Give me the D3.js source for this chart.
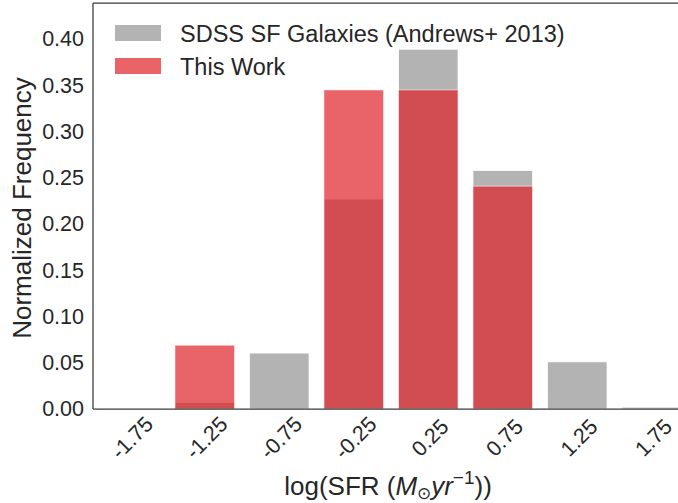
<!DOCTYPE html>
<html><head><meta charset="utf-8">
<script src="https://cdn.jsdelivr.net/npm/d3@7"></script>
<style>body{margin:0;background:#fff;} svg{display:block;} text{font-family:"Liberation Sans",Arial,sans-serif;fill:#262626;}</style>
</head><body>
<svg id="c" width="678" height="503"></svg>
<script>
const binCenters = [-1.75, -1.25, -0.75, -0.25, 0.25, 0.75, 1.25, 1.75];
const tickLabels = ["-1.75", "-1.25", "-0.75", "-0.25", "0.25", "0.75", "1.25", "1.75"];
const sdssValues = [0, 0.007, 0.0605, 0.227, 0.389, 0.258, 0.051, 0.002];
const thisWorkValues = [0, 0.069, 0, 0.345, 0.345, 0.241, 0, 0];
const yTicks = [0, 0.05, 0.10, 0.15, 0.20, 0.25, 0.30, 0.35, 0.40];
const seriesNames = ["SDSS SF Galaxies (Andrews+ 2013)", "This Work"];

const svg = d3.select("#c");
const L = 93, T = 3, B = 409;
const x = d3.scaleLinear().domain([-2, 2]).range([L, L + 4 * 149]);
const y = d3.scaleLinear().domain([0, 0.439]).range([B, T]);
const barW = 0.4;

const gray = "#b3b3b3";
const red = "rgb(222,34,40)";

// SDSS bars
svg.append("g").selectAll("rect").data(binCenters).join("rect")
  .attr("x", (d) => x(d - barW / 2))
  .attr("width", x(barW) - x(0))
  .attr("y", (d, i) => y(sdssValues[i]))
  .attr("height", (d, i) => y(0) - y(sdssValues[i]))
  .attr("fill", gray).attr("stroke", "#fff").attr("stroke-width", 0.8)
  .style("display", (d, i) => sdssValues[i] > 0 ? null : "none");

// This Work bars
svg.append("g").selectAll("rect").data(binCenters).join("rect")
  .attr("x", (d) => x(d - barW / 2))
  .attr("width", x(barW) - x(0))
  .attr("y", (d, i) => y(thisWorkValues[i]))
  .attr("height", (d, i) => y(0) - y(thisWorkValues[i]))
  .attr("fill", red).attr("fill-opacity", 0.7)
  .attr("stroke", "#fff").attr("stroke-opacity", 0.7).attr("stroke-width", 0.8)
  .style("display", (d, i) => thisWorkValues[i] > 0 ? null : "none");

// spines
const spine = "#3a3a3a";
svg.append("line").attr("x1", L).attr("x2", 678).attr("y1", B).attr("y2", B).attr("stroke", spine).attr("stroke-width", 1.25);
svg.append("line").attr("x1", L).attr("x2", 678).attr("y1", T).attr("y2", T).attr("stroke", spine).attr("stroke-width", 1.25);
svg.append("line").attr("x1", L).attr("x2", L).attr("y1", T).attr("y2", B).attr("stroke", spine).attr("stroke-width", 1.25);

// y axis labels
const yAxis = d3.axisLeft(y).tickValues(yTicks).tickFormat(d3.format(".2f")).tickSize(0).tickPadding(9);
const gy = svg.append("g").attr("transform", `translate(${L},0)`).call(yAxis);
gy.select(".domain").remove();
gy.selectAll("text").attr("font-size", 21.5).style("font-family", '"Liberation Sans",Arial,sans-serif').attr("fill", "#262626");

// x tick labels rotated
svg.append("g").selectAll("text").data(binCenters).join("text")
  .attr("transform", (d) => `translate(${x(d) + 2},438) rotate(-45)`)
  .attr("text-anchor", "middle").attr("dominant-baseline", "central")
  .attr("font-size", 21.5)
  .text((d, i) => tickLabels[i]);

// axis titles
svg.append("text").attr("transform", `translate(31,${(T + B) / 2 + 2}) rotate(-90)`)
  .attr("text-anchor", "middle").attr("font-size", 26).text("Normalized Frequency");

const xl = svg.append("text").attr("x", 388).attr("y", 495).attr("text-anchor", "middle").attr("font-size", 26);
xl.append("tspan").text("log(SFR (");
xl.append("tspan").attr("font-style", "italic").text("M");
xl.append("tspan").attr("font-size", 17).attr("dy", 4).text("⊙");
xl.append("tspan").attr("dy", -4).attr("font-style", "italic").text("yr");
xl.append("tspan").attr("font-size", 19).attr("dy", -11).text("−1");
xl.append("tspan").attr("dy", 11).text("))");

// legend
const leg = svg.append("g");
const legColors = [{ f: gray, o: 1 }, { f: red, o: 0.7 }];
seriesNames.forEach((n, i) => {
  leg.append("rect").attr("x", 115).attr("y", 25 + i * 33).attr("width", 46).attr("height", 16)
    .attr("fill", legColors[i].f).attr("fill-opacity", legColors[i].o);
  leg.append("text").attr("x", 180).attr("y", 42 + i * 33).attr("font-size", 23.5).text(n);
});
</script>
</body></html>
